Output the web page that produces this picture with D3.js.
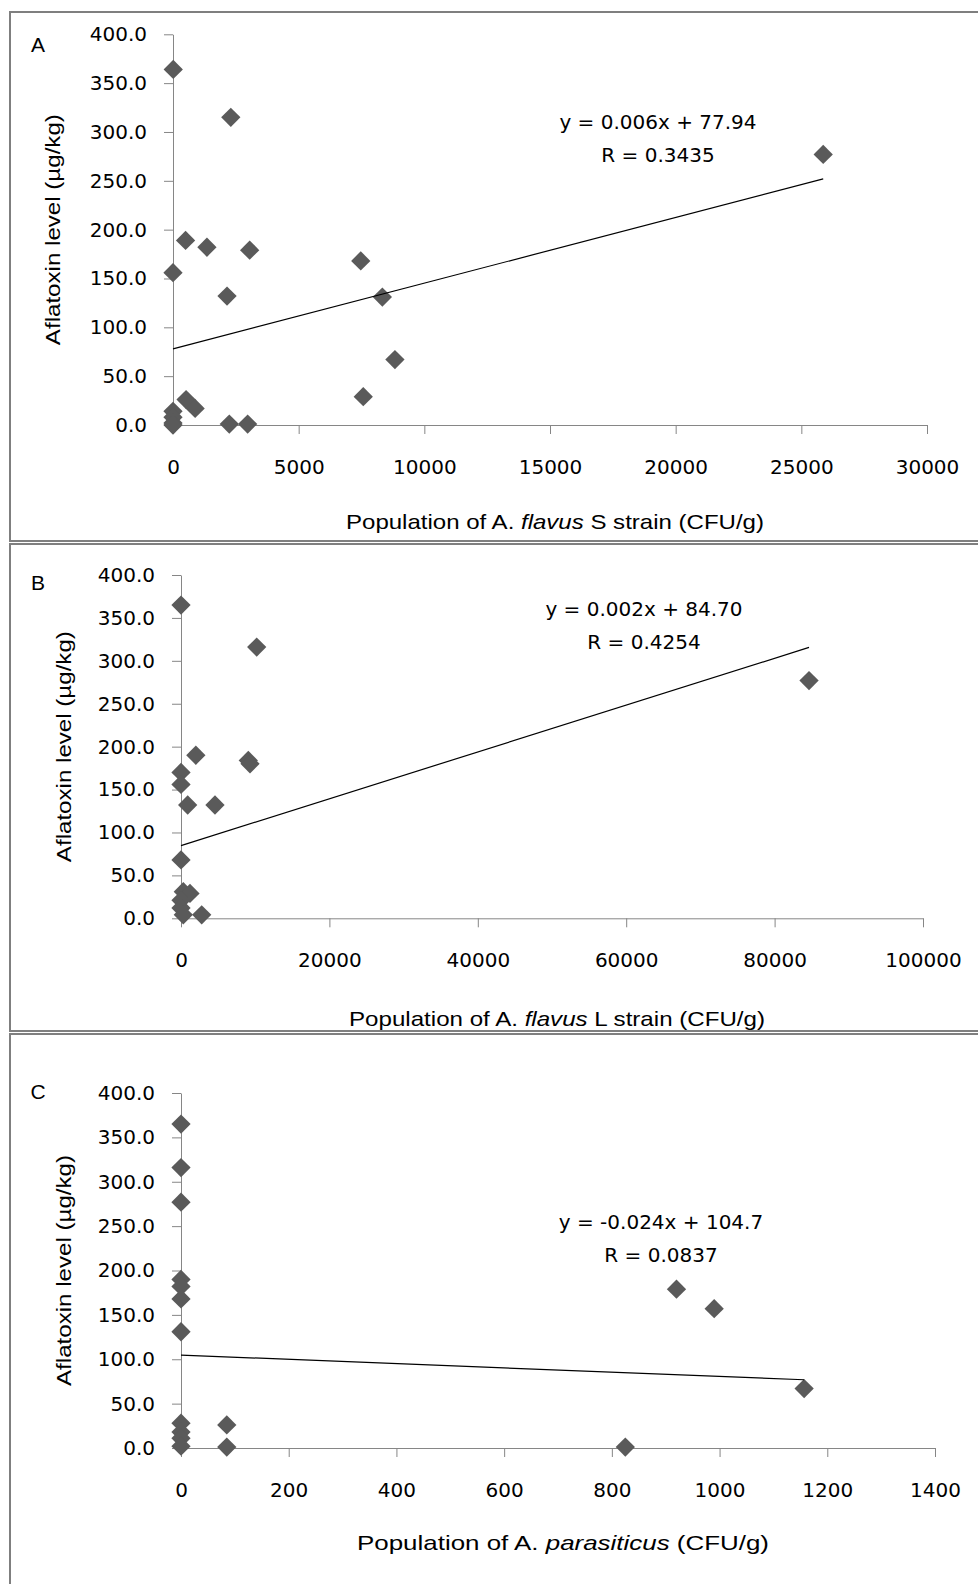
<!DOCTYPE html>
<html>
<head>
<meta charset="utf-8">
<script src="https://cdn.jsdelivr.net/npm/d3@7"></script>
<style>
  body { margin: 0; background: #fff; }
</style>
</head>
<body>
<script>
// Panel A: A. flavus S strain vs aflatoxin
const xA = [10, 2300, 500, 1350, 3050, 0, 2150, 7470, 8330, 8830, 7570, 520, 880, 0, 0, 0, 0, 2240, 2970, 25870];
const yA = [364, 315, 189, 182, 179, 156, 132, 168, 131, 67, 29, 26, 17, 14, 8, 2, 0, 1, 1, 277];
const trendA = [[0, 77.94], [25870, 252]];
const eqA = ['y = 0.006x + 77.94', 'R = 0.3435'];

// Panel B: A. flavus L strain
const xB = [0, 10200, 2000, 9070, 9300, 0, 0, 900, 4580, 0, 84640, 310, 1210, 0, 0, 310, 2790];
const yB = [365, 316, 190, 184, 180, 170, 156, 132, 132, 68, 277, 31, 29, 21, 12, 4, 4];
const trendB = [[0, 84.7], [84640, 315.6]];
const eqB = ['y = 0.002x + 84.70', 'R = 0.4254'];

// Panel C: A. parasiticus
const xC = [0, 0, 0, 0, 0, 0, 0, 0, 0, 0, 0, 85, 85, 825, 920, 990, 1157];
const yC = [365, 316, 277, 190, 182, 168, 131, 28, 18, 11, 2, 26, 1, 1, 179, 157, 67];
const trendC = [[0, 104.7], [1157, 76.9]];
const eqC = ['y = -0.024x + 104.7', 'R = 0.0837'];

const yTicks = [0, 50, 100, 150, 200, 250, 300, 350, 400];
const xTicksA = [0, 5000, 10000, 15000, 20000, 25000, 30000];
const xTicksB = [0, 20000, 40000, 60000, 80000, 100000];
const xTicksC = [0, 200, 400, 600, 800, 1000, 1200, 1400];

const yTitle = 'Aflatoxin level (µg/kg)';

const panels = [
  { label: 'A', xs: xA, ys: yA, trend: trendA, eq: eqA, xTicks: xTicksA,
    title: ['Population of A. ', 'flavus', ' S strain (CFU/g)'], titleLen: 418,
    box: [12, 529], left: 173, right: 927, top: 34.3, bottom: 425,
    eqPos: [658, 122], titleY: 521, yTitleX: 52.5, labelDy: 10 },
  { label: 'B', xs: xB, ys: yB, trend: trendB, eq: eqB, xTicks: xTicksB,
    title: ['Population of A. ', 'flavus', ' L strain (CFU/g)'], titleLen: 416,
    box: [544, 487], left: 181, right: 923, top: 575, bottom: 918.3,
    eqPos: [644, 609], titleY: 1018, yTitleX: 63, labelDy: 7 },
  { label: 'C', xs: xC, ys: yC, trend: trendC, eq: eqC, xTicks: xTicksC,
    title: ['Population of A. ', 'parasiticus', ' (CFU/g)'], titleLen: 412,
    box: [1034, 600], left: 181, right: 935, top: 1093, bottom: 1448,
    eqPos: [661, 1222], titleY: 1542, yTitleX: 63, labelDy: -2 }
];

const svg = d3.select('body').append('svg')
  .attr('width', 978)
  .attr('height', 1584);

const axisColor = '#868686';
const markerColor = '#5a5a5a';
const tickFont = 'DejaVu Sans';
const titleFont = 'Liberation Sans';

panels.forEach((p) => {
  const g = svg.append('g');

  // panel frame
  g.append('rect')
    .attr('x', 10)
    .attr('y', p.box[0])
    .attr('width', 1000)
    .attr('height', p.box[1])
    .attr('fill', 'none')
    .attr('stroke', '#7f7f7f')
    .attr('stroke-width', 2);

  const x = d3.scaleLinear().domain([0, p.xTicks[p.xTicks.length - 1]]).range([p.left, p.right]);
  const y = d3.scaleLinear().domain([0, 400]).range([p.bottom, p.top]);

  const xAxis = g.append('g')
    .attr('transform', `translate(0,${p.bottom})`)
    .call(d3.axisBottom(x).tickValues(p.xTicks).tickSize(9).tickSizeOuter(0)
      .tickPadding(26).tickFormat(d3.format('d')));

  const yAxis = g.append('g')
    .attr('transform', `translate(${p.left},0)`)
    .call(d3.axisLeft(y).tickValues(yTicks).tickSize(9).tickSizeOuter(0)
      .tickPadding(17).tickFormat(d3.format('.1f')));

  [xAxis, yAxis].forEach((a) => {
    a.attr('font-family', tickFont).attr('font-size', 20);
    a.select('.domain').attr('stroke', axisColor);
    a.selectAll('.tick line').attr('stroke', axisColor);
    a.selectAll('.tick text').attr('fill', '#000');
  });

  // points
  const pts = p.xs.map((v, i) => [v, p.ys[i]]);
  g.selectAll('.pt')
    .data(pts)
    .enter()
    .append('path')
    .attr('class', 'pt')
    .attr('d', d3.symbol(d3.symbolSquare, 186))
    .attr('transform', d => `translate(${x(d[0])},${y(d[1])}) rotate(45)`)
    .attr('fill', markerColor);

  // linear trend line, drawn over the markers
  g.append('path')
    .datum(p.trend)
    .attr('d', d3.line().x(d => x(d[0])).y(d => y(d[1])))
    .attr('stroke', '#000')
    .attr('stroke-width', 1.2)
    .attr('fill', 'none');

  // equation
  g.selectAll('.eq')
    .data(p.eq)
    .enter()
    .append('text')
    .attr('class', 'eq')
    .attr('x', p.eqPos[0])
    .attr('y', (d, i) => p.eqPos[1] + i * 33)
    .attr('dy', '0.36em')
    .attr('text-anchor', 'middle')
    .attr('font-family', tickFont)
    .attr('font-size', 20)
    .text(d => d);

  // panel letter
  g.append('text')
    .attr('x', 38)
    .attr('y', p.top + p.labelDy)
    .attr('dy', '0.36em')
    .attr('text-anchor', 'middle')
    .attr('font-family', titleFont)
    .attr('font-size', 21)
    .text(p.label);

  // x title
  const xt = g.append('text')
    .attr('x', (p.left + p.right) / 2 + 5)
    .attr('y', p.titleY)
    .attr('dy', '0.36em')
    .attr('text-anchor', 'middle')
    .attr('font-family', titleFont)
    .attr('font-size', 21)
    .attr('textLength', p.titleLen)
    .attr('lengthAdjust', 'spacingAndGlyphs');
  xt.append('tspan').text(p.title[0]);
  xt.append('tspan').attr('font-style', 'italic').text(p.title[1]);
  xt.append('tspan').text(p.title[2]);

  // y title
  g.append('text')
    .attr('transform', `translate(${p.yTitleX},${(p.top + p.bottom) / 2}) rotate(-90)`)
    .attr('dy', '0.36em')
    .attr('text-anchor', 'middle')
    .attr('font-family', titleFont)
    .attr('font-size', 21)
    .attr('textLength', 231)
    .attr('lengthAdjust', 'spacingAndGlyphs')
    .text(yTitle);
});
</script>
</body>
</html>
